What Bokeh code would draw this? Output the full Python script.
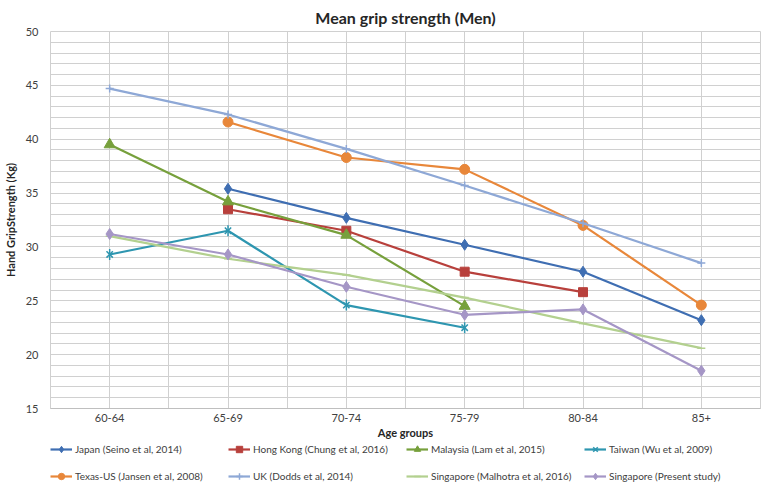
import math
from bokeh.plotting import figure
from bokeh.layouts import column
from bokeh.models import FixedTicker, Legend, LegendItem, ColumnDataSource
from bokeh.embed import file_html
from bokeh.resources import INLINE

NaN = float("nan")
categories = ["60-64", "65-69", "70-74", "75-79", "80-84", "85+"]

japan = [NaN, 35.4, 32.7, 30.2, 27.7, 23.2]
hong_kong = [NaN, 33.5, 31.5, 27.7, 25.8, NaN]
malaysia = [39.5, 34.2, 31.1, 24.5, NaN, NaN]
taiwan = [29.3, 31.5, 24.6, 22.5, NaN, NaN]
texas = [NaN, 41.6, 38.3, 37.2, 32.0, 24.6]
uk = [44.7, 42.3, 39.1, 35.7, 32.2, 28.5]
sg_malhotra = [31.0, 28.9, 27.4, 25.3, 22.9, 20.6]
sg_present = [31.2, 29.3, 26.3, 23.7, 24.2, 18.5]

# (label, values, colour, list of (marker, size, angle))
series = [
    ("Japan (Seino et al, 2014)", japan, "#3F6EB2", [("diamond", 11, 0)]),
    ("Hong Kong (Chung et al, 2016)", hong_kong, "#B8403C", [("square", 9, 0)]),
    ("Malaysia (Lam et al, 2015)", malaysia, "#77A03C", [("triangle", 11, 0)]),
    ("Taiwan (Wu et al, 2009)", taiwan, "#2E96B0", [("x", 9, 0), ("dash", 11, math.pi / 2)]),
    ("Texas-US (Jansen et al, 2008)", texas, "#E8873A", [("circle", 10, 0)]),
    ("UK (Dodds et al, 2014)", uk, "#8EA8D6", [("cross", 8, 0)]),
    ("Singapore (Malhotra et al, 2016)", sg_malhotra, "#B3D08F", [("dash", 8, 0)]),
    ("Singapore (Present study)", sg_present, "#A596C6", [("diamond", 11, 0)]),
]

FONT = "Lato"
GRID = "#D0D0D0"

p = figure(width=762, height=441, output_backend="svg", toolbar_location=None,
           x_range=(-0.5, 5.5), y_range=(15, 50),
           min_border_left=34, min_border_right=2, min_border_top=30, min_border_bottom=20)

p.title.text = "Mean grip strength (Men)"
p.title.align = "center"
p.title.text_font = FONT
p.title.text_font_size = "16px"
p.title.text_font_style = "bold"
p.title.text_color = "#262626"

p.outline_line_color = GRID

# x axis
p.xaxis.ticker = FixedTicker(ticks=list(range(len(categories))))
p.xaxis.major_label_overrides = {i: c for i, c in enumerate(categories)}
p.xaxis.axis_label = "Age groups"
p.xaxis.axis_label_text_font = FONT
p.xaxis.axis_label_text_font_style = "bold"
p.xaxis.axis_label_text_font_size = "11px"
p.xaxis.axis_label_text_color = "#262626"
p.xaxis.axis_label_standoff = 1
p.xaxis.major_label_text_font = FONT
p.xaxis.major_label_text_font_size = "11px"
p.xaxis.major_label_text_color = "#404040"
p.xaxis.major_label_standoff = 5
p.xaxis.axis_line_color = "#BFBFBF"
p.xaxis.major_tick_line_color = None
p.xaxis.minor_tick_line_color = None
p.xaxis.major_tick_out = 0
p.xaxis.major_tick_in = 0

# y axis
p.yaxis.ticker = FixedTicker(ticks=[15, 20, 25, 30, 35, 40, 45, 50],
                             minor_ticks=list(range(15, 51)))
p.yaxis.axis_label = "Hand GripStrength (Kg)"
p.yaxis.axis_label_text_font = FONT
p.yaxis.axis_label_text_font_style = "bold"
p.yaxis.axis_label_text_font_size = "11px"
p.yaxis.axis_label_text_color = "#262626"
p.yaxis.axis_label_standoff = 6
p.yaxis.major_label_text_font = FONT
p.yaxis.major_label_text_font_size = "11px"
p.yaxis.major_label_text_color = "#404040"
p.yaxis.major_label_standoff = 6
p.yaxis.axis_line_color = None
p.yaxis.major_tick_line_color = None
p.yaxis.minor_tick_line_color = None

# grids
p.ygrid.grid_line_color = GRID
p.ygrid.minor_grid_line_color = GRID
p.xgrid.ticker = FixedTicker(ticks=[i * 0.5 - 0.5 for i in range(13)])
p.xgrid.grid_line_color = GRID

# legend figure (its glyph proxies sit outside its visible range)
lf = figure(width=762, height=43, output_backend="svg", toolbar_location=None,
            x_range=(0, 1), y_range=(0, 1), x_axis_location=None, y_axis_location=None,
            min_border_left=29, min_border_right=0, min_border_top=0, min_border_bottom=0)
lf.grid.visible = False
lf.outline_line_color = None

xs = list(range(len(categories)))
items = []
for name, vals, color, markers in series:
    xv = [x for x, v in zip(xs, vals) if not math.isnan(v)]
    yv = [v for v in vals if not math.isnan(v)]
    src = ColumnDataSource(dict(x=xv, y=yv))
    p.line("x", "y", source=src, line_color=color, line_width=2.2)
    rs = [lf.line("x", "y", source=src, line_color=color, line_width=2.2)]
    for marker, size, angle in markers:
        lw = 1.5 if marker in ("x", "cross", "dash") else 1
        p.scatter("x", "y", source=src, marker=marker, size=size, angle=angle,
                  fill_color=color, line_color=color, line_width=lw)
        rs.append(lf.scatter("x", "y", source=src, marker=marker, size=size * 0.85,
                             angle=angle, fill_color=color, line_color=color, line_width=lw))
    items.append(LegendItem(label=name, renderers=rs))

legend = Legend(items=items, ncols=4, orientation="horizontal",
                label_text_font=FONT, label_text_font_size="10px",
                label_text_color="#404040", border_line_color=None,
                background_fill_alpha=0,
                glyph_width=22, glyph_height=16, label_height=16, label_width=142,
                label_standoff=3, spacing=11,
                padding=0, margin=0, location="top_left")
lf.add_layout(legend, "center")

layout = column(p, lf, spacing=0)
open("out.html", "w").write(file_html(layout, INLINE))
